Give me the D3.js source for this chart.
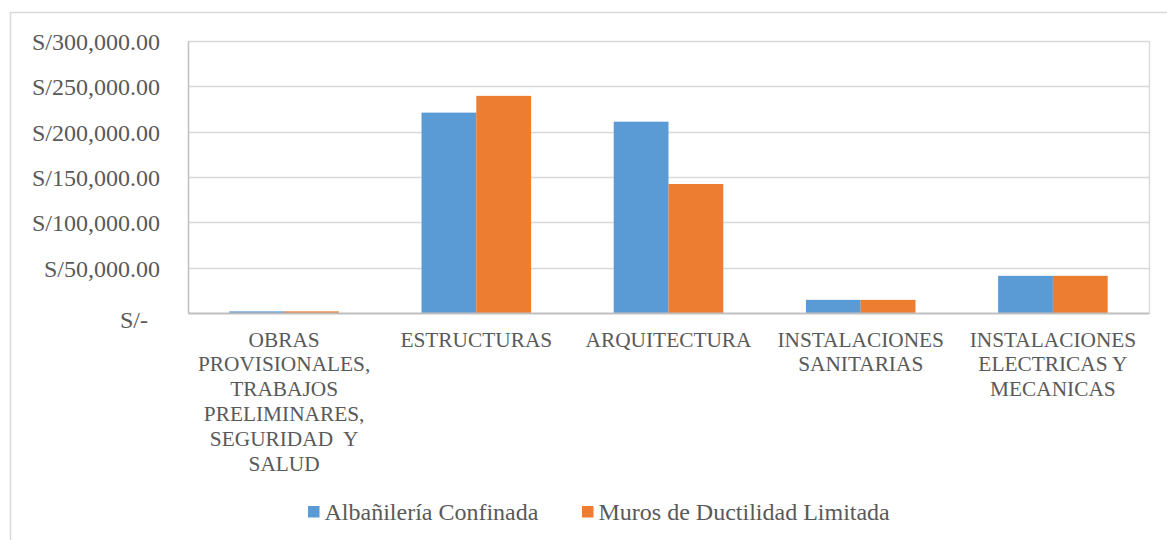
<!DOCTYPE html>
<html>
<head>
<meta charset="utf-8">
<script src="https://cdn.jsdelivr.net/npm/d3@7"></script>
<style>
  html, body { margin: 0; padding: 0; background: #ffffff; }
  svg { display: block; }
  svg text { font-family: 'Liberation Serif', 'Times New Roman', Times, serif; fill: #595959; }
</style>
</head>
<body>
<svg id="chart" width="1167" height="540"></svg>
<script>
// Budget by specialty, in soles
const categories = [
  ["OBRAS", "PROVISIONALES,", "TRABAJOS", "PRELIMINARES,", "SEGURIDAD  Y", "SALUD"],
  ["ESTRUCTURAS"],
  ["ARQUITECTURA"],
  ["INSTALACIONES", "SANITARIAS"],
  ["INSTALACIONES", "ELECTRICAS Y", "MECANICAS"]
];
const seriesNames = ["Albañilería Confinada", "Muros de Ductilidad Limitada"];
const albanileria = [1800, 221000, 211000, 14500, 41000];
const murosDuctilidad = [1800, 239500, 142300, 14500, 41000];
const yTicks = [0, 50000, 100000, 150000, 200000, 250000, 300000];
const colors = ["#5b9bd5", "#ed7d31"];

const FONT = "'Liberation Serif', 'Times New Roman', Times, serif";
const svg = d3.select("#chart");
const W = 1167, H = 540;
const plot = { left: 188, right: 1149, top: 41, bottom: 313 };

// Outer chart frame (extends past the right and bottom edges)
svg.append("rect")
  .attr("x", 10.5).attr("y", 12.5)
  .attr("width", W + 10).attr("height", H + 10)
  .attr("fill", "#fff").attr("stroke", "#d9d9d9").attr("stroke-width", 1.5);

const keys = categories.map((c, i) => i);
const x0 = d3.scaleBand().domain(keys).range([plot.left, plot.right]).paddingInner(0).paddingOuter(0);
const groupPad = 0.215;
const x1 = d3.scaleBand().domain([0, 1])
  .range([x0.bandwidth() * groupPad, x0.bandwidth() * (1 - groupPad)]);
const y = d3.scaleLinear().domain([0, 300000]).range([plot.bottom, plot.top]);

// Gridlines
svg.append("g")
  .selectAll("line")
  .data(yTicks.filter(t => t > 0))
  .join("line")
  .attr("x1", plot.left).attr("x2", plot.right)
  .attr("y1", d => Math.round(y(d)) + 0.5).attr("y2", d => Math.round(y(d)) + 0.5)
  .attr("stroke", "#d9d9d9").attr("stroke-width", 1.3);

// Right edge of plot area
svg.append("line")
  .attr("x1", plot.right + 0.5).attr("x2", plot.right + 0.5)
  .attr("y1", plot.top).attr("y2", plot.bottom)
  .attr("stroke", "#d9d9d9").attr("stroke-width", 1.3);

// Bars
const seriesData = [albanileria, murosDuctilidad];
const groups = svg.append("g").selectAll("g")
  .data(keys)
  .join("g")
  .attr("transform", d => `translate(${x0(d)},0)`);
groups.selectAll("rect")
  .data(i => seriesData.map((s, k) => ({ k, v: s[i] })))
  .join("rect")
  .attr("x", d => x1(d.k))
  .attr("width", x1.bandwidth())
  .attr("y", d => y(d.v))
  .attr("height", d => y(0) - y(d.v))
  .attr("fill", d => colors[d.k]);

// Y axis
const fmt = d3.format(",.2f");
const yAxis = svg.append("g")
  .attr("transform", `translate(${plot.left},0)`)
  .call(d3.axisLeft(y).tickValues(yTicks)
    .tickFormat(d => d === 0 ? "S/-" : "S/" + fmt(d))
    .tickSize(0).tickPadding(28));
yAxis.attr("font-family", FONT).attr("font-size", 24);
yAxis.select(".domain").attr("stroke", "#bfbfbf").attr("stroke-width", 1.5);
yAxis.selectAll("text")
  .style("font-family", FONT)
  .style("font-size", "24px")
  .attr("fill", "#595959")
  .attr("dy", "0.36em");
yAxis.selectAll(".tick")
  .filter(d => d === 0)
  .select("text")
  .attr("x", -40).attr("dy", "0.6em");

// X axis
const xAxis = svg.append("g")
  .attr("transform", `translate(0,${plot.bottom})`)
  .call(d3.axisBottom(x0).tickSize(0).tickFormat(() => ""));
xAxis.attr("font-family", FONT).attr("font-size", 21.33);
xAxis.select(".domain").attr("stroke", "#bfbfbf").attr("stroke-width", 2);
xAxis.selectAll(".tick text").remove();
xAxis.selectAll(".tick")
  .append("text")
  .attr("text-anchor", "middle")
  .style("font-family", FONT)
  .style("font-size", "21.33px")
  .attr("fill", "#595959")
  .selectAll("tspan")
  .data(i => categories[i])
  .join("tspan")
  .attr("x", 0)
  .attr("y", (d, j) => 33.5 + j * 24.8)
  .attr("xml:space", "preserve")
  .style("white-space", "pre")
  .text(d => d);

// Legend
const legendItems = [
  { name: seriesNames[0], color: colors[0], x: 308 },
  { name: seriesNames[1], color: colors[1], x: 582 }
];
const legend = svg.append("g").selectAll("g")
  .data(legendItems)
  .join("g")
  .attr("transform", d => `translate(${d.x},506)`);
legend.append("rect")
  .attr("width", 11.5).attr("height", 11.5)
  .attr("fill", d => d.color);
legend.append("text")
  .attr("x", 16.5).attr("y", 13.5)
  .style("font-family", FONT)
  .style("font-size", "24px")
  .text(d => d.name);
</script>
</body>
</html>
